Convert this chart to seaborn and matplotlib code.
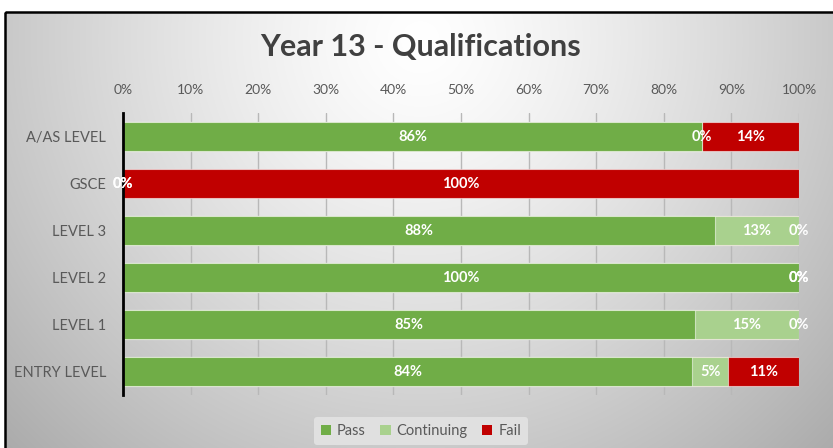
import numpy as np
import pandas as pd
import matplotlib
matplotlib.use("Agg")
import matplotlib.pyplot as plt
import seaborn as sns
from matplotlib.patches import Rectangle, Patch

categories = ["A/AS LEVEL", "GSCE", "LEVEL 3", "LEVEL 2", "LEVEL 1", "ENTRY LEVEL"]
pass_vals = [85.7, 0.0, 87.5, 100.0, 84.6, 84.2]
continuing_vals = [0.0, 0.0, 12.5, 0.0, 15.4, 5.3]
fail_vals = [14.3, 100.0, 0.0, 0.0, 0.0, 10.5]
series_names = ["Pass", "Continuing", "Fail"]
series_colors = ["#70AD47", "#A9D18E", "#C00000"]
x_ticks = [0, 10, 20, 30, 40, 50, 60, 70, 80, 90, 100]

sns.set_theme(style="white")
plt.rcParams["font.family"] = ["Lato", "DejaVu Sans"]

W, H = 833, 448
fig = plt.figure(figsize=(W / 100, H / 100), dpi=100)

# background gradient
bg = fig.add_axes([0, 0, 1, 1], zorder=-10)
yy, xx = np.mgrid[0:H, 0:W]
d = np.sqrt(((xx - 420) / 470.0) ** 2 + ((yy - 40) / 470.0) ** 2)
g = np.clip(1 - 0.25 * d ** 1.3, 0, 1)
img = np.dstack([g, g, g])
img[:12, :, :] = 1.0
img[:, :5, :] = 1.0
bg.imshow(img, aspect="auto", extent=[0, W, H, 0])
bg.set_xlim(0, W)
bg.set_ylim(H, 0)
bg.axis("off")
bg.add_patch(Rectangle((5.5, 12.5), W + 10, H + 10, fill=False, edgecolor="black", linewidth=1.8))

df = pd.DataFrame({"cat": categories, "Pass": pass_vals,
                   "Continuing": continuing_vals, "Fail": fail_vals})
df["c1"] = df["Pass"]
df["c2"] = df["Pass"] + df["Continuing"]
df["c3"] = df["c2"] + df["Fail"]

ax = fig.add_axes([123 / W, 1 - 395 / H, (799 - 123) / W, (395 - 113) / H])
ax.patch.set_alpha(0)
edge = (1, 1, 1, 0.55)
for col, color in zip(["c3", "c2", "c1"], series_colors[::-1]):
    sns.barplot(data=df, x=col, y="cat", orient="h", color=color, width=0.6,
                edgecolor=edge, linewidth=0.8, ax=ax, saturation=1)

# labels
for i in range(len(categories)):
    starts = [0, df["c1"][i], df["c2"][i]]
    vals = [df["Pass"][i], df["Continuing"][i], df["Fail"][i]]
    for s, v in zip(starts, vals):
        ax.text(s + v / 2, i, f"{int(v + 0.5)}%", ha="center", va="center",
                color="white", fontsize=10.5, fontweight="bold", zorder=10,
                clip_on=False)

ax.set_xlim(0, 100)
ax.set_ylim(len(categories) - 0.5, -0.5)
ax.set_xticks(x_ticks)
ax.set_xticklabels([f"{t}%" for t in x_ticks])
ax.xaxis.tick_top()
ax.tick_params(axis="x", length=0, pad=12, labelsize=10, labelcolor="#595959")
ax.tick_params(axis="y", length=0, pad=12, labelsize=10.5, labelcolor="#595959")
ax.set_xlabel("")
ax.set_ylabel("")
ax.grid(axis="x", color="#b8b8b8", linewidth=1)
ax.set_axisbelow(True)
for s in ["top", "right", "bottom"]:
    ax.spines[s].set_visible(False)
ax.spines["left"].set_color("black")
ax.spines["left"].set_linewidth(2)
ax.spines["left"].set_zorder(6)

fig.text(421 / W, 1 - 47 / H, "Year 13 - Qualifications", ha="center", va="center",
         fontsize=22, fontweight="bold", color="#404040")

handles = [Patch(facecolor=c, edgecolor="none") for c in series_colors]
leg = fig.legend(handles, series_names, loc="center", bbox_to_anchor=(421 / W, 1 - 431 / H),
                 ncol=3, frameon=True, fontsize=10.5, handlelength=0.7, handleheight=0.7,
                 handletextpad=0.4, columnspacing=1.0, borderpad=0.5)
leg.get_frame().set_facecolor("#e0e0e0")
leg.get_frame().set_edgecolor("none")
leg.get_frame().set_alpha(1)
for t in leg.get_texts():
    t.set_color("#595959")

fig.savefig("out.png", dpi=100)
